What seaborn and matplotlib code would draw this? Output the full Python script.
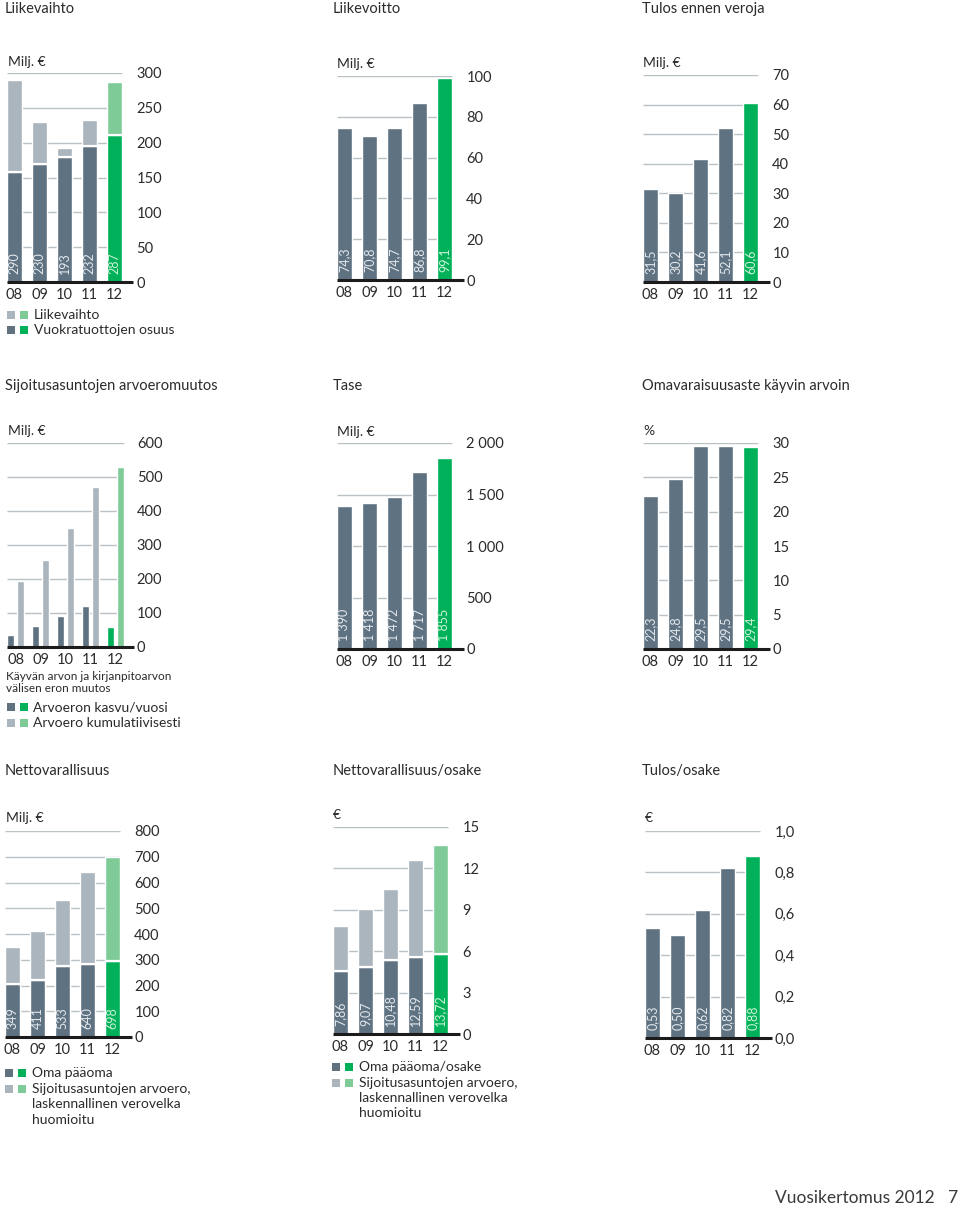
"""Vuosikertomus 2012 - key figure panels (9 small bar charts)."""

import matplotlib
matplotlib.use("Agg")
import matplotlib.pyplot as plt
from matplotlib.patches import Rectangle
import pandas as pd
import seaborn as sns

# ----------------------------------------------------------------------------
# data
# ----------------------------------------------------------------------------
YEARS = ["08", "09", "10", "11", "12"]

LIIKEVAIHTO = [290, 230, 193, 232, 287]
VUOKRATUOTOT = [158, 169, 180, 195, 211]
LIIKEVOITTO = [74.3, 70.8, 74.7, 86.8, 99.1]
TULOS_ENNEN_VEROJA = [31.5, 30.2, 41.6, 52.1, 60.6]

ARVOERO_KASVU = [34, 62, 92, 121, 60]
ARVOERO_KUM = [195, 257, 349, 470, 530]
TASE = [1390, 1418, 1472, 1717, 1855]
OMAVARAISUUS = [22.3, 24.8, 29.5, 29.5, 29.4]

NETTOVAR = [349, 411, 533, 640, 698]
OMA_PAAOMA = [206, 222, 274, 283, 296]
NETTOVAR_OSAKE = [7.86, 9.07, 10.48, 12.59, 13.72]
OMA_PAAOMA_OSAKE = [4.55, 4.85, 5.35, 5.60, 5.80]
TULOS_OSAKE = [0.53, 0.50, 0.62, 0.82, 0.88]

TICKS_LIIKEVAIHTO = [0, 50, 100, 150, 200, 250, 300]
TICKS_LIIKEVOITTO = [0, 20, 40, 60, 80, 100]
TICKS_TULOS = [0, 10, 20, 30, 40, 50, 60, 70]
TICKS_ARVOERO = [0, 100, 200, 300, 400, 500, 600]
TICKS_TASE = [0, 500, 1000, 1500, 2000]
TICKLABELS_TASE = ["0", "500", "1 000", "1 500", "2 000"]
TICKS_OMAVAR = [0, 5, 10, 15, 20, 25, 30]
TICKS_NETTOVAR = [0, 100, 200, 300, 400, 500, 600, 700, 800]
TICKS_NV_OSAKE = [0, 3, 6, 9, 12, 15]
TICKS_TULOS_OSAKE = [0, 0.2, 0.4, 0.6, 0.8, 1.0]
TICKLABELS_TULOS_OSAKE = ["0,0", "0,2", "0,4", "0,6", "0,8", "1,0"]

# ----------------------------------------------------------------------------
# style
# ----------------------------------------------------------------------------
DARK = "#5f7282"
LIGHT = "#abb5be"
GREEN = "#00b159"
LIGHTGREEN = "#7fcb98"
GRID = "#b9c1c5"
TEXT = "#2b2b2b"
LABEL_DARK = "#e3e8ec"
LABEL_GREEN = "#c9f3d8"

W, H = 960, 1205
UNIT = 25  # px per category step

sns.set_theme(style="white")
plt.rcParams["font.family"] = ["Lato", "DejaVu Sans"]
plt.rcParams["text.color"] = TEXT

fig = plt.figure(figsize=(W / 100, H / 100), dpi=100)
fig.patch.set_facecolor("white")


def fx(x):
    return x / W


def fy(y):
    return 1 - y / H


def fmt_dec(v, n):
    return f"{v:.{n}f}".replace(".", ",")


def fmt_int(v):
    return f"{v:,.0f}".replace(",", " ")


def make_ax(left, top, zero, xl=-0.3, xr=4.76):
    ax = fig.add_axes([fx(left), fy(zero), (xr - xl) * UNIT / W, (zero - top) / H])
    ax.set_facecolor("none")
    return ax, xl, xr


def finish(ax, xl, xr, ticks, ticklabels=None, grid_right=4.3):
    top = ticks[-1]
    ax.set_xlim(xl, xr)
    ax.set_ylim(0, top)
    ax.hlines(ticks[1:], xl, grid_right, color=GRID, lw=1.0, zorder=0.5)
    ax.hlines(0, xl, xr, color="#1c1c1c", lw=2.2, zorder=5, clip_on=False)
    ax.yaxis.tick_right()
    ax.set_yticks(ticks)
    ax.set_yticklabels(ticklabels if ticklabels else [str(t) for t in ticks])
    ax.tick_params(axis="y", length=0, pad=2, labelsize=10.5, labelcolor=TEXT)
    ax.tick_params(axis="x", length=0, pad=4, labelsize=10.5, labelcolor=TEXT)
    ax.set_xlabel("")
    ax.set_ylabel("")
    for s in ax.spines.values():
        s.set_visible(False)


def value_labels(ax, texts, offset=5.5):
    for i, t in enumerate(texts):
        ax.annotate(
            t, xy=(i, 0), xytext=(0, offset), textcoords="offset points",
            rotation=90, ha="center", va="bottom", fontsize=9,
            color=LABEL_GREEN if i == len(texts) - 1 else LABEL_DARK, zorder=6,
        )


def simple_bars(ax, values):
    sns.barplot(x=YEARS, y=values, color=DARK, width=0.6, saturation=1,
                errorbar=None, ax=ax, zorder=2)
    ax.containers[-1].patches[-1].set_facecolor(GREEN)


def stacked_bars(ax, totals, base):
    sns.barplot(x=YEARS, y=totals, color=LIGHT, width=0.6, saturation=1,
                errorbar=None, ax=ax, zorder=2)
    ax.containers[-1].patches[-1].set_facecolor(LIGHTGREEN)
    sns.barplot(x=YEARS, y=base, color=DARK, width=0.6, saturation=1,
                errorbar=None, ax=ax, zorder=3)
    ax.containers[-1].patches[-1].set_facecolor(GREEN)
    xs = range(len(base))
    ax.hlines(base, [x - 0.3 for x in xs], [x + 0.3 for x in xs],
              color="white", lw=1.6, zorder=4)


def title(x, y, text):
    fig.text(fx(x), fy(y), text, fontsize=10.5, va="baseline", ha="left", color=TEXT)


def unit(x, y, text):
    fig.text(fx(x), fy(y), text, fontsize=10, va="center", ha="left", color=TEXT)


def legend_row(x, y, colors, text, text_x):
    for k, c in enumerate(colors):
        fig.add_artist(Rectangle((fx(x + k * 13), fy(y + 4)), 8 / W, 8 / H,
                                 transform=fig.transFigure, color=c, lw=0))
    fig.text(fx(text_x), fy(y), text, fontsize=10, va="center", ha="left", color=TEXT)


# ----------------------------------------------------------------------------
# row 1
# ----------------------------------------------------------------------------
title(5, 13, "Liikevaihto")
title(333, 13, "Liikevoitto")
title(642, 13, "Tulos ennen veroja")

ax, xl, xr = make_ax(7, 73, 282)
stacked_bars(ax, LIIKEVAIHTO, VUOKRATUOTOT)
finish(ax, xl, xr, TICKS_LIIKEVAIHTO)
value_labels(ax, [fmt_int(v) for v in LIIKEVAIHTO])
unit(8, 62, "Milj. €")
legend_row(7, 315, [LIGHT, LIGHTGREEN], "Liikevaihto", 34)
legend_row(7, 330, [DARK, GREEN], "Vuokratuottojen osuus", 34)

ax, xl, xr = make_ax(337, 76, 280)
simple_bars(ax, LIIKEVOITTO)
finish(ax, xl, xr, TICKS_LIIKEVOITTO)
value_labels(ax, [fmt_dec(v, 1) for v in LIIKEVOITTO])
unit(337, 64, "Milj. €")

ax, xl, xr = make_ax(643, 75, 282)
simple_bars(ax, TULOS_ENNEN_VEROJA)
finish(ax, xl, xr, TICKS_TULOS)
value_labels(ax, [fmt_dec(v, 1) for v in TULOS_ENNEN_VEROJA])
unit(643, 63, "Milj. €")

# ----------------------------------------------------------------------------
# row 2
# ----------------------------------------------------------------------------
title(5, 390, "Sijoitusasuntojen arvoeromuutos")
title(333, 390, "Tase")
title(642, 390, "Omavaraisuusaste käyvin arvoin")

ax, xl, xr = make_ax(7, 443, 647, xl=-0.34, xr=4.74)
df_arvo = pd.DataFrame({
    "year": YEARS * 2,
    "value": ARVOERO_KASVU + ARVOERO_KUM,
    "series": ["kasvu"] * 5 + ["kumulatiivinen"] * 5,
})
sns.barplot(data=df_arvo, x="year", y="value", hue="series",
            palette=[DARK, LIGHT], width=0.8, gap=0.3, saturation=1,
            errorbar=None, legend=False, ax=ax, zorder=2)
ax.containers[0].patches[-1].set_facecolor(GREEN)
ax.containers[1].patches[-1].set_facecolor(LIGHTGREEN)
finish(ax, xl, xr, TICKS_ARVOERO, grid_right=4.34)
unit(8, 431, "Milj. €")
fig.text(fx(6), fy(677), "Käyvän arvon ja kirjanpitoarvon", fontsize=8.5,
         va="center", color=TEXT)
fig.text(fx(6), fy(688), "välisen eron muutos", fontsize=8.5, va="center", color=TEXT)
legend_row(7, 707, [DARK, GREEN], "Arvoeron kasvu/vuosi", 33)
legend_row(7, 723, [LIGHT, LIGHTGREEN], "Arvoero kumulatiivisesti", 33)

ax, xl, xr = make_ax(337, 443, 649)
simple_bars(ax, TASE)
finish(ax, xl, xr, TICKS_TASE, TICKLABELS_TASE)
value_labels(ax, [fmt_int(v) for v in TASE])
unit(337, 432, "Milj. €")

ax, xl, xr = make_ax(643, 443, 649)
simple_bars(ax, OMAVARAISUUS)
finish(ax, xl, xr, TICKS_OMAVAR)
value_labels(ax, [fmt_dec(v, 1) for v in OMAVARAISUUS])
unit(643, 431, "%")

# ----------------------------------------------------------------------------
# row 3
# ----------------------------------------------------------------------------
title(5, 775, "Nettovarallisuus")
title(333, 775, "Nettovarallisuus/osake")
title(642, 775, "Tulos/osake")

ax, xl, xr = make_ax(5, 831, 1037)
stacked_bars(ax, NETTOVAR, OMA_PAAOMA)
finish(ax, xl, xr, TICKS_NETTOVAR)
value_labels(ax, [fmt_int(v) for v in NETTOVAR])
unit(6, 818, "Milj. €")
legend_row(5, 1073, [DARK, GREEN], "Oma pääoma", 32)
legend_row(5, 1089, [LIGHT, LIGHTGREEN], "Sijoitusasuntojen arvoero,", 32)
fig.text(fx(32), fy(1104), "laskennallinen verovelka", fontsize=10, va="center", color=TEXT)
fig.text(fx(32), fy(1120), "huomioitu", fontsize=10, va="center", color=TEXT)

ax, xl, xr = make_ax(333, 827, 1034)
stacked_bars(ax, NETTOVAR_OSAKE, OMA_PAAOMA_OSAKE)
finish(ax, xl, xr, TICKS_NV_OSAKE)
value_labels(ax, [fmt_dec(v, 2) for v in NETTOVAR_OSAKE])
unit(333, 815, "€")
legend_row(332, 1067, [DARK, GREEN], "Oma pääoma/osake", 359)
legend_row(332, 1083, [LIGHT, LIGHTGREEN], "Sijoitusasuntojen arvoero,", 359)
fig.text(fx(359), fy(1098), "laskennallinen verovelka", fontsize=10, va="center", color=TEXT)
fig.text(fx(359), fy(1113), "huomioitu", fontsize=10, va="center", color=TEXT)

ax, xl, xr = make_ax(645, 831, 1038)
simple_bars(ax, TULOS_OSAKE)
finish(ax, xl, xr, TICKS_TULOS_OSAKE, TICKLABELS_TULOS_OSAKE)
value_labels(ax, [fmt_dec(v, 2) for v in TULOS_OSAKE])
unit(645, 818, "€")

# footer
fig.text(fx(958), fy(1198), "Vuosikertomus 2012   7", fontsize=12.5,
         ha="right", va="center", color="#3a3a3a")

fig.savefig("out.png", dpi=100, facecolor="white")
